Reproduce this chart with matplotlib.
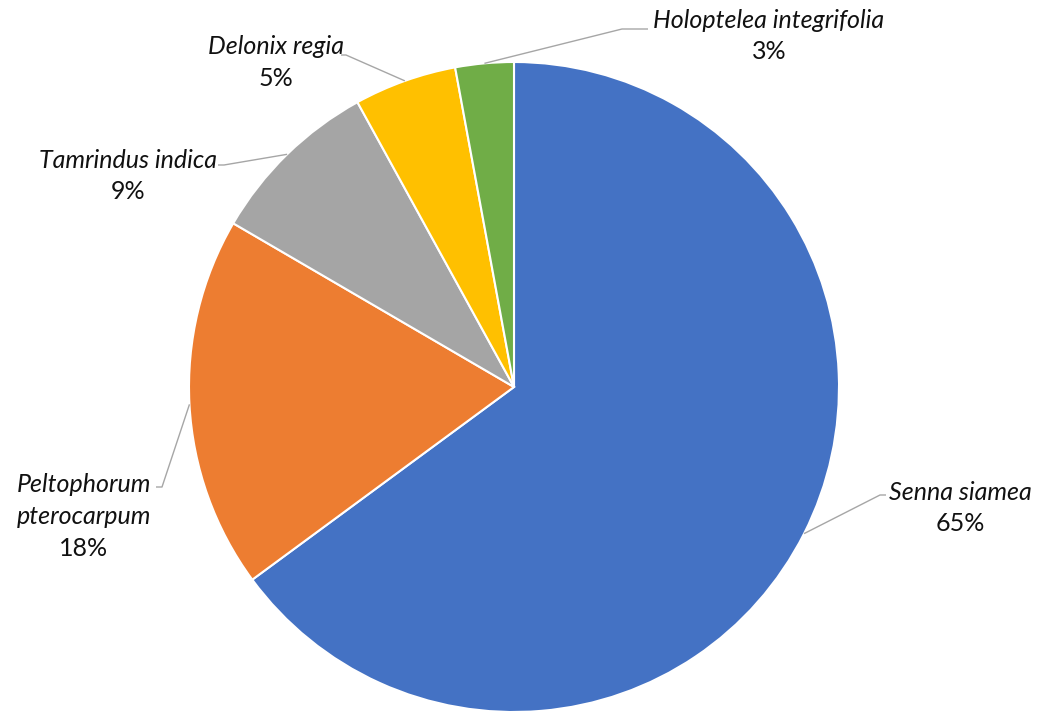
import numpy as np
import matplotlib
matplotlib.use("Agg")
import matplotlib.pyplot as plt

# ---- data ----
species = ["Senna siamea", "Peltophorum pterocarpum", "Tamrindus indica",
           "Delonix regia", "Holoptelea integrifolia"]
shares = [64.9, 18.5, 8.6, 5.1, 2.9]
pct_labels = ["65%", "18%", "9%", "5%", "3%"]
name_lines = [["Senna siamea"], ["Peltophorum", "pterocarpum"], ["Tamrindus indica"],
              ["Delonix regia"], ["Holoptelea integrifolia"]]
colors = ["#4472C4", "#ED7D31", "#A5A5A5", "#FFC000", "#70AD47"]

W, H = 1044, 715
fig = plt.figure(figsize=(W / 100, H / 100), dpi=100)
ax = fig.add_axes([0, 0, 1, 1])

cx, cy, r = 514, H - 387, 325
wedges, _ = ax.pie(shares, colors=colors, startangle=90, counterclock=False,
                   center=(cx, cy), radius=r, frame=True,
                   wedgeprops=dict(edgecolor="white", linewidth=1.5))
ax.set_xlim(0, W)
ax.set_ylim(0, H)
ax.set_aspect("equal")
ax.axis("off")

# label layout (pixel coords from top): text centre x, first line y, leader end (x, y), elbow x
layout = [
    dict(x=960, y=492, end=(880, 495), elbow=886),
    dict(x=84, y=485, end=(162, 487), elbow=156),
    dict(x=128, y=160, end=(224, 165), elbow=218),
    dict(x=276, y=47, end=(346, 55), elbow=341),
    dict(x=769, y=20, end=(622, 29), elbow=648),
]

font = "Lato"
fs = 18
lh = 31.5
for w, lay, names, pct in zip(wedges, layout, name_lines, pct_labels):
    ang = np.deg2rad((w.theta1 + w.theta2) / 2)
    sx, sy = cx + r * np.cos(ang), cy + r * np.sin(ang)
    ex, ey = lay["end"][0], H - lay["end"][1]
    ax.plot([sx, ex, lay["elbow"]], [sy, ey, ey], color="#A6A6A6", lw=1.0,
            solid_capstyle="butt", zorder=1)
    y = lay["y"]
    for nm in names:
        ax.text(lay["x"], H - y, nm, ha="center", va="center", fontsize=fs,
                fontstyle="italic", family=font, color="#111111")
        y += lh
    ax.text(lay["x"], H - y, pct, ha="center", va="center", fontsize=fs,
            family=font, color="#111111")

fig.savefig("out.png", dpi=100, facecolor="white")
